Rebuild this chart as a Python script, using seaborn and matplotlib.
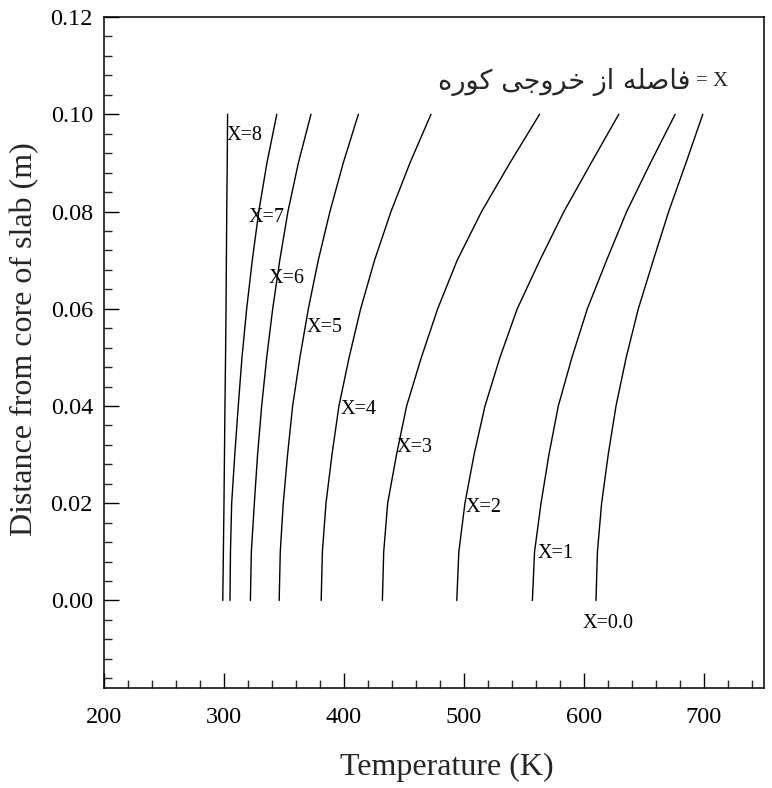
import numpy as np
import pandas as pd
import matplotlib
matplotlib.use('Agg')
import matplotlib.pyplot as plt
from matplotlib.ticker import MultipleLocator, FormatStrFormatter
import seaborn as sns

# distance from slab core (m) where the profiles were read
depth = [0.00, 0.01, 0.02, 0.03, 0.04, 0.05, 0.06, 0.07, 0.08, 0.09, 0.10]

# temperature (K) of each profile at those depths, X = distance from furnace exit
temp_x0 = [610, 611.2, 614.7, 620.2, 626.7, 635.2, 645.3, 657.8, 670.6, 685.0, 699]
temp_x1 = [557, 558.8, 564.2, 570.8, 578.6, 590.0, 602.8, 618.9, 635.6, 655.4, 676]
temp_x2 = [494, 495.7, 500.8, 508.4, 517.5, 530.0, 544.4, 563.3, 583.3, 606.0, 629]
temp_x3 = [432, 433.1, 436.4, 443.8, 452.2, 464.5, 478.1, 494.4, 514.7, 538.3, 563]
temp_x4 = [381, 382.0, 385.0, 390.0, 395.8, 404.3, 413.9, 425.5, 439.2, 455.0, 472.5]
temp_x5 = [346, 346.9, 349.4, 353.0, 357.2, 363.3, 370.3, 378.6, 388.3, 399.4, 412]
temp_x6 = [322, 322.8, 325.3, 328.0, 331.4, 335.6, 340.6, 346.5, 353.3, 362.0, 372.5]
temp_x7 = [305, 305.4, 306.4, 309.0, 311.9, 315.0, 318.9, 323.6, 329.0, 335.8, 344]
temp_x8 = [299, 299.5, 300.0, 300.4, 300.8, 301.3, 301.7, 302.0, 302.3, 302.7, 303]

profiles = {'0': temp_x0, '1': temp_x1, '2': temp_x2, '3': temp_x3, '4': temp_x4,
            '5': temp_x5, '6': temp_x6, '7': temp_x7, '8': temp_x8}

# curve labels: text, temperature, depth
label_text = ['X=0.0', 'X=1', 'X=2', 'X=3', 'X=4', 'X=5', 'X=6', 'X=7', 'X=8']
label_T = [599, 561, 501, 444, 397.5, 369, 337.5, 320.8, 302.5]
label_y = [-0.0048, 0.0097, 0.0191, 0.0315, 0.0393, 0.0561, 0.0662, 0.0787, 0.0956]

rows = []
for key, temps in profiles.items():
    for t, d in zip(temps, depth):
        rows.append({'X': key, 'Temperature': t, 'Depth': d})
df = pd.DataFrame(rows)

sns.set_style('ticks')
plt.rcParams['font.family'] = ['Liberation Serif', 'DejaVu Sans']

fig = plt.figure(figsize=(7.72, 7.88), dpi=100)
ax = fig.add_axes([0.1347, 0.1269, 0.8549, 0.8515])

sns.lineplot(data=df, x='Temperature', y='Depth', hue='X',
             palette={k: 'black' for k in profiles}, sort=False,
             estimator=None, linewidth=1.0, legend=False, ax=ax)

for txt, t, d in zip(label_text, label_T, label_y):
    ax.text(t, d, txt, fontsize=14.5, ha='left', va='center', color='black')

# Persian note, shaped by hand into presentation forms (visual order)
w1 = '\uFED3\uFE8E\uFEBB\uFEE0\uFEEA'
w2 = '\uFE8D\uFEAF'
w3 = '\uFEA7\uFEAE\uFEED\uFE9F\uFBFD'
w4 = '\uFB90\uFEEE\uFEAD\uFEE9'
persian = w4[::-1] + ' ' + w3[::-1] + ' ' + w2[::-1] + ' ' + w1[::-1]
ax.text(720, 0.1067, '= X', fontsize=15, ha='right', va='center')
ax.text(689, 0.1067, persian, fontsize=19.5, ha='right', va='center',
        family=['DejaVu Sans'])

ax.set_xlim(200, 750)
ax.set_ylim(-0.018, 0.12)
ax.xaxis.set_minor_locator(MultipleLocator(20))
ax.yaxis.set_minor_locator(MultipleLocator(0.004))
ax.yaxis.set_major_formatter(FormatStrFormatter('%.2f'))
ax.set_xticks([200, 300, 400, 500, 600, 700])
ax.set_yticks([0.00, 0.02, 0.04, 0.06, 0.08, 0.10, 0.12])

ax.tick_params(which='major', direction='in', length=11, width=1.0,
               labelsize=17.5, colors='black')
ax.tick_params(axis='x', which='major', pad=14)
ax.tick_params(axis='y', which='major', pad=8)
ax.tick_params(which='minor', direction='in', length=5.5, width=1.0)
ax.tick_params(top=False, right=False, which='both')
for s in ax.spines.values():
    s.set_linewidth(1.1)
    s.set_color('black')

ax.set_xlabel('Temperature (K)', fontsize=23)
ax.set_ylabel('Distance from core of slab (m)', fontsize=23)
ax.xaxis.set_label_coords(0.52, -0.097)
ax.yaxis.set_label_coords(-0.098, 0.52)

fig.savefig('out.png', dpi=100)
